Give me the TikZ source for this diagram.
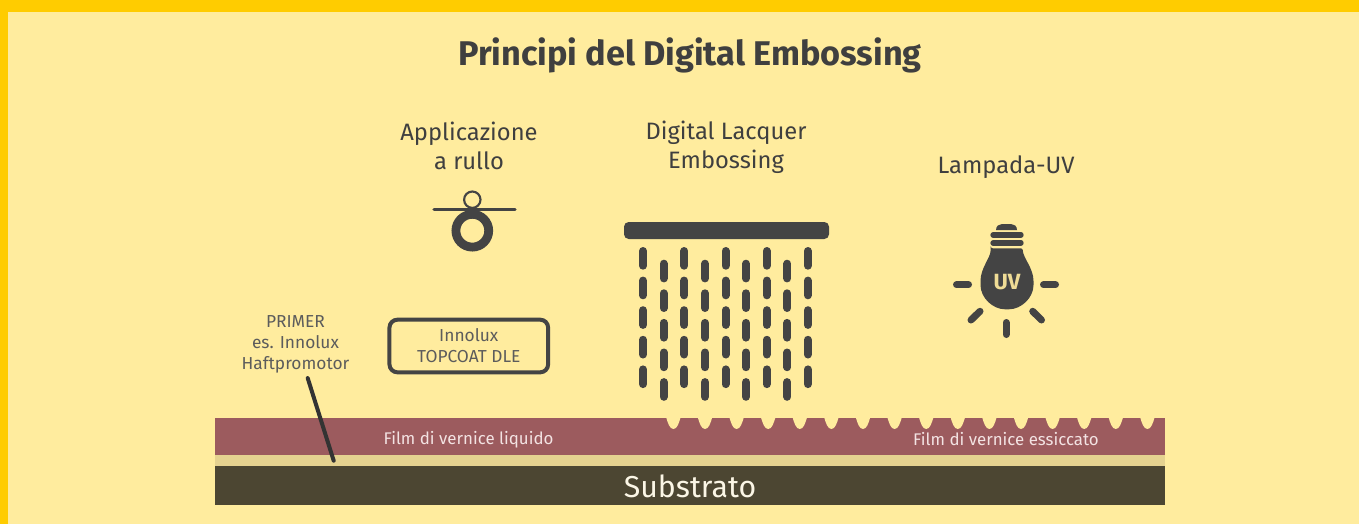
\documentclass[tikz,border=0pt]{standalone}
\usepackage{fontspec}
\setmainfont{Fira Sans}
\definecolor{bgcream}{HTML}{FFEC9E}
\definecolor{frameyellow}{HTML}{FFCC00}
\definecolor{lacquer}{HTML}{9C5B5E}
\definecolor{primercol}{HTML}{E5D290}
\definecolor{substr}{HTML}{4C4632}
\definecolor{icon}{HTML}{444444}
\definecolor{txt}{HTML}{3F3F3F}
\definecolor{filmtxt}{HTML}{F3E3E3}
\definecolor{subtxt}{HTML}{FBF6E6}
\tikzset{
  x=0.75pt,y=-0.75pt,
  heading/.style={text=txt,font=\fontsize{17.8}{21.75}\selectfont,align=center,inner sep=0pt},
  smalllabel/.style={text=txt!85!white,font=\fontsize{13}{15.75}\selectfont,align=center,inner sep=0pt},
  filmlabel/.style={text=filmtxt,font=\fontsize{12.65}{15}\selectfont,inner sep=0pt},
  ray/.style={line width=5.25pt,line cap=round,draw=icon},
  drop/.style={line width=6pt,line cap=round,draw=icon},
  band/.style={line width=4pt,line cap=round,draw=icon},
}
\begin{document}
\begin{tikzpicture}
\useasboundingbox (0,0) rectangle (1359,524);
\fill[bgcream] (0,0) rectangle (1359,524);
\fill[frameyellow] (0,0) rectangle (1359,12);
\fill[frameyellow] (0,0) rectangle (8,524);

\node[text=txt,inner sep=0pt,font=\fontsize{25.7}{30}\selectfont\bfseries] (title) at (690,55.5) {Principi del Digital Embossing};

\node[heading] (appl) at (469,145.7) {Applicazione\\a rullo};
\node[heading] (dle) at (726,147) {Digital Lacquer\\Embossing};
\node[heading] (uvt) at (1006,167) {Lampada-UV};

% roller
\draw[icon,line width=1.6pt] (472.3,199.7) circle[radius=8.2];
\draw[icon,line width=6.6pt] (472.3,230.7) circle[radius=16.4];
\draw[icon,line width=2.3pt,line cap=round] (434,209.7) -- (515,209.7);

% print head
\fill[icon,rounded corners=3.5pt] (624,222) rectangle (829,239);
\foreach \xc/\yo in {643/247,663.7/259.7,684.3/247,705/259.7,725.5/247,746/259.7,766.7/247,787.3/259.7,807.8/247}{
  \foreach \k in {0,...,4}{
    \draw[drop] (\xc,\yo+\k*29.6+4) -- (\xc,\yo+\k*29.6+18.7);
  }
}

% bulb
\fill[icon] (996,230) .. controls (996,226) and (999,224) .. (1002,224) -- (1011,224) .. controls (1014,224) and (1017,226) .. (1017,230) -- cycle;
\draw[band] (993,235) -- (1021,235);
\draw[band] (993,243) -- (1021,243);
\fill[icon,rounded corners=1.5pt] (990.7,248.3) -- (1022.7,248.3) .. controls (1023,258) and (1033.5,268) .. (1033.5,283)
  .. controls (1033.5,298) and (1021,309.3) .. (1007,309.3)
  .. controls (993,309.3) and (980.5,298) .. (980.5,283)
  .. controls (980.5,268) and (990.5,258) .. (990.7,248.3) -- cycle;
\node[text=primercol!60!bgcream,inner sep=0pt,font=\fontsize{16.5}{18}\selectfont\bfseries] (uv) at (1007,282) {UV};
\draw[ray] (956.5,284.7) -- (968.5,284.7);
\draw[ray] (1043.5,284.7) -- (1055.5,284.7);
\draw[ray] (1006,322.5) -- (1006,334.5);
\draw[ray] (971,320) -- (980,311.3);
\draw[ray] (1041.5,320) -- (1032.7,311.3);

% labels
\node[smalllabel] (primer) at (295.5,344) {PRIMER\\es. Innolux\\Haftpromotor};
\node[smalllabel,draw=icon,line width=3pt,rounded corners=6pt,minimum width=119pt,minimum height=39.5pt] (box) at (468.8,346) {Innolux\\TOPCOAT DLE};

% layers
\fill[lacquer] (215,418) rectangle (1165,455);
\foreach \k in {0,...,15}{
  \pgfmathsetmacro{\cx}{673.4+31.6*\k}
  \fill[bgcream] (\cx-7.2,417.5) .. controls (\cx-5.5,423) and (\cx-3.8,429) .. (\cx,429) .. controls (\cx+3.8,429) and (\cx+5.5,423) .. (\cx+7.2,417.5) -- cycle;
}
\fill[primercol] (215,455) rectangle (1165,466);
\fill[substr] (215,466) rectangle (1165,505);
\node[filmlabel] (filmA) at (468.5,439.5) {Film di vernice liquido};
\node[filmlabel] (filmB) at (1006,439.5) {Film di vernice essiccato};
\node[text=subtxt,inner sep=0pt,font=\fontsize{22.7}{26}\selectfont] (sub) at (690,486) {Substrato};

% leader
\coordinate (primerend) at (333.7,460.7);
\draw[line width=3pt,line cap=round,draw=black!80] ([shift={(12.2,5)}]primer.south) -- (primerend);
\end{tikzpicture}
\end{document}
